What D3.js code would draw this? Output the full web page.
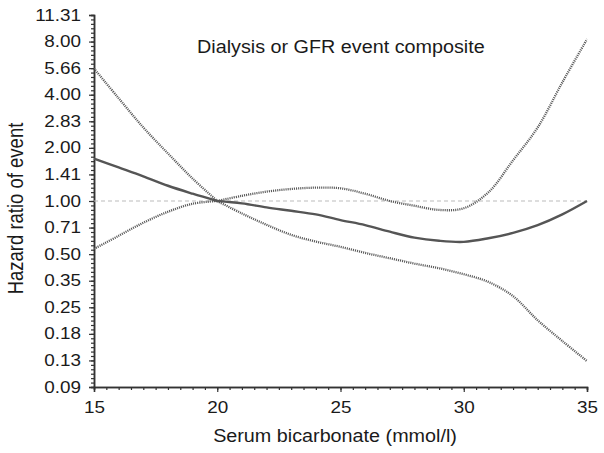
<!DOCTYPE html>
<html>
<head>
<meta charset="utf-8">
<script src="https://cdn.jsdelivr.net/npm/d3@7"></script>
<style>
    body { margin: 0; background: #fff; }
    text { font-family: "Liberation Sans", Arial, sans-serif; fill: #1a1a1a; }
</style>
</head>
<body>
<div id="chart"></div>
<script>
// serum bicarbonate (mmol/l)
var bicarb = [15, 16, 17, 18, 19, 20, 21, 22, 23, 24, 25, 26, 27, 28, 29, 30, 31, 32, 33, 34, 35];
// hazard ratio estimate
var hazard = [1.74, 1.55, 1.38, 1.22, 1.10, 1.00, 0.97, 0.92, 0.88, 0.84, 0.78, 0.73, 0.67, 0.62, 0.595, 0.587, 0.615, 0.66, 0.73, 0.84, 1.00];
// upper / lower confidence bounds
var upperCI = [5.63, 3.82, 2.61, 1.86, 1.34, 1.00, 1.07, 1.13, 1.17, 1.19, 1.18, 1.10, 1.00, 0.94, 0.89, 0.91, 1.12, 1.70, 2.61, 4.70, 8.26];
var lowerCI = [0.536, 0.635, 0.753, 0.869, 0.965, 1.00, 0.85, 0.733, 0.643, 0.589, 0.55, 0.508, 0.474, 0.442, 0.416, 0.385, 0.348, 0.289, 0.211, 0.161, 0.124];
// reference value (curves meet here)
var refBicarb = 20;

var xTicks = [15, 20, 25, 30, 35];
var yTickLabels = ["0.09", "0.13", "0.18", "0.25", "0.35", "0.50", "0.71", "1.00", "1.41", "2.00", "2.83", "4.00", "5.66", "8.00", "11.31"];
var yTickPowers = [-3.5, -3, -2.5, -2, -1.5, -1, -0.5, 0, 0.5, 1, 1.5, 2, 2.5, 3, 3.5];

var titleText = "Dialysis or GFR event composite";
var xTitle = "Serum bicarbonate (mmol/l)";
var yTitle = "Hazard ratio of event";

var fullWidth = 604, fullHeight = 453;
var margin = { "top" : 15, "right" : 17, "bottom" : 66, "left" : 94 };
var width = fullWidth - margin.left - margin.right;
var height = fullHeight - margin.top - margin.bottom;
// the original figure is a little wider than tall, so text gets stretched
var stretch = 1.18;

var svg = d3.select("#chart").append("svg")
    .attr("width", fullWidth)
    .attr("height", fullHeight);
var g = svg.append("g")
    .attr("transform", "translate(" + margin.left + "," + margin.top + ")");

var x = d3.scaleLinear().domain([15, 35]).range([0, width]);
var y = d3.scaleLog().base(2).domain([Math.pow(2, -3.5), Math.pow(2, 3.5)]).range([height, 0]);

// minor ticks
var xMinor = d3.range(15, 35.01, 0.5);
var yMinor = d3.range(-3.5, 3.501, 1 / 12).map(function(p) { return Math.pow(2, p); });

var xAxisMinor = d3.axisBottom(x).tickValues(xMinor).tickSize(3).tickFormat("");
var xAxis = d3.axisBottom(x).tickValues(xTicks).tickSize(5).tickPadding(10).tickFormat(d3.format("d"));
var yAxisMinor = d3.axisLeft(y).tickValues(yMinor).tickSize(3).tickFormat("");
var yAxis = d3.axisLeft(y).tickValues(yTickPowers.map(function(p) { return Math.pow(2, p); }))
    .tickSize(5).tickPadding(8)
    .tickFormat(function(d, i) { return yTickLabels[i]; });

function styleAxis(sel) {
    sel.selectAll("path").attr("stroke", "#333").attr("stroke-width", 1.5);
    sel.selectAll("line").attr("stroke", "#333").attr("stroke-width", 1.2);
    sel.selectAll("text").style("font-size", "16px").attr("fill", "#1a1a1a")
        .attr("x", function() { return (+d3.select(this).attr("x") || 0) / stretch; })
        .attr("transform", "scale(" + stretch + ",1)");
}

g.append("g").attr("transform", "translate(0," + height + ")").call(xAxisMinor).call(styleAxis);
g.append("g").attr("transform", "translate(0," + height + ")").call(xAxis).call(styleAxis);
g.append("g").call(yAxisMinor).call(styleAxis);
g.append("g").call(yAxis).call(styleAxis);

// reference line at HR = 1
g.append("line")
    .attr("x1", x(15)).attr("x2", x(35))
    .attr("y1", y(1)).attr("y2", y(1))
    .attr("stroke", "#bbb").attr("stroke-width", 1.2)
    .attr("stroke-dasharray", "4,3");

// draw each side of the reference value as its own smooth piece
var split = bicarb.indexOf(refBicarb);
function pieces(values) {
    var pts = values.map(function(v, i) { return [bicarb[i], v]; });
    return [pts.slice(0, split + 1), pts.slice(split)];
}
var line = d3.line()
    .x(function(d) { return x(d[0]); })
    .y(function(d) { return y(d[1]); })
    .curve(d3.curveCatmullRom.alpha(0.5));

// confidence bounds
[upperCI, lowerCI].forEach(function(ci) {
    g.selectAll(null).data(pieces(ci)).enter().append("path")
        .attr("d", line)
        .attr("fill", "none")
        .attr("stroke", "#5a5a5a")
        .attr("stroke-width", 2.3)
        .attr("stroke-dasharray", "1.1,1");
});

// estimate
g.selectAll(null).data(pieces(hazard)).enter().append("path")
    .attr("d", line)
    .attr("fill", "none")
    .attr("stroke", "#555")
    .attr("stroke-width", 2.4);

// titles
svg.append("text")
    .attr("transform", "translate(197,53) scale(1.13,1)")
    .style("font-size", "17.5px")
    .text(titleText);

svg.append("text")
    .attr("transform", "translate(335,442) scale(1.13,1)")
    .attr("text-anchor", "middle")
    .style("font-size", "17.5px")
    .text(xTitle);

svg.append("text")
    .attr("transform", "translate(22.5,208.5) rotate(-90) scale(1,1.15)")
    .attr("text-anchor", "middle")
    .style("font-size", "18.5px")
    .text(yTitle);
</script>
</body>
</html>
